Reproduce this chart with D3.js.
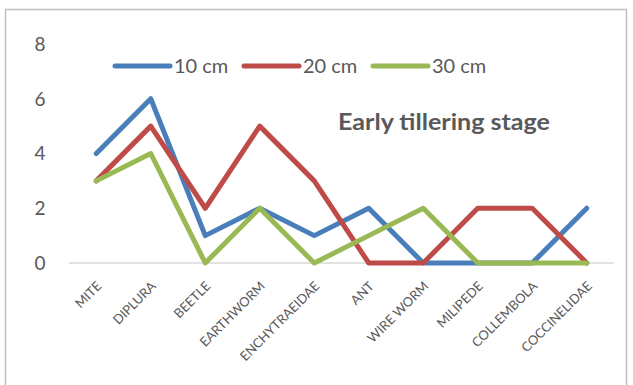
<!DOCTYPE html>
<html><head><meta charset="utf-8">
<script src="https://cdn.jsdelivr.net/npm/d3@7"></script>
<style>body{margin:0;background:#fff}svg{display:block}</style>
</head><body>
<script>
const categories = ["MITE","DIPLURA","BEETLE","EARTHWORM","ENCHYTRAEIDAE","ANT","WIRE WORM","MILIPEDE","COLLEMBOLA","COCCINELIDAE"];
const seriesNames = ["10 cm","20 cm","30 cm"];
const s10 = [4,6,1,2,1,2,0,0,0,2];
const s20 = [3,5,2,5,3,0,0,2,2,0];
const s30 = [3,4,0,2,0,1,2,0,0,0];
const yTicks = [0,2,4,6,8];
const colors = ["#4a7ebb","#be4b48","#98b954"];
const title = "Early tillering stage";

const W=633,H=385;
const svg=d3.select("body").append("svg").attr("width",W).attr("height",H);
svg.append("rect").attr("x",5.5).attr("y",9.5).attr("width",621).attr("height",390)
  .attr("fill","#fff").attr("stroke","#bfbfbf").attr("stroke-width",1.5);

const x=d3.scaleBand().domain(categories).range([69,614]);
const y=d3.scaleLinear().domain([0,8]).range([263,44]);
const font="Lato, 'Open Sans', sans-serif";
const grey="#595959";

// baseline
svg.append("line").attr("x1",69).attr("x2",614).attr("y1",y(0)).attr("y2",y(0))
  .attr("stroke","#d9d9d9").attr("stroke-width",1.5);

// y tick labels
svg.selectAll(".yt").data(yTicks).enter().append("text")
  .attr("x",40).attr("y",d=>y(d)).attr("dy","0.36em").attr("text-anchor","middle")
  .attr("font-family",font).attr("font-size",19).attr("fill",grey).text(d=>d);

// x labels
svg.selectAll(".xt").data(categories).enter().append("text")
  .attr("transform",d=>`translate(${x(d)+x.bandwidth()/2+6},${287}) rotate(-45)`)
  .attr("text-anchor","end").attr("font-family",font).attr("font-size",13)
  .attr("fill",grey).text(d=>d);

const data=[s10,s20,s30];
const line=d3.line().x((d,i)=>x(categories[i])+x.bandwidth()/2).y(d=>y(d));
data.forEach((s,k)=>{
  svg.append("path").attr("d",line(s)).attr("fill","none").attr("stroke",colors[k])
    .attr("stroke-width",5).attr("stroke-linejoin","round").attr("stroke-linecap","round");
});

// legend
const lx=[115,244,373];
seriesNames.forEach((n,k)=>{
  svg.append("line").attr("x1",lx[k]).attr("x2",lx[k]+55).attr("y1",66).attr("y2",66)
    .attr("stroke",colors[k]).attr("stroke-width",5).attr("stroke-linecap","round");
  svg.append("text").attr("x",lx[k]+59).attr("y",66).attr("dy","0.36em")
    .attr("font-family",font).attr("font-size",20).attr("fill",grey).text(n);
});

svg.append("text").attr("x",338).attr("y",122).attr("dy","0.36em")
  .attr("font-family",font).attr("font-size",22).attr("font-weight","bold")
  .attr("textLength",212).attr("lengthAdjust","spacingAndGlyphs")
  .attr("fill",grey).text(title);
</script>
</body></html>
